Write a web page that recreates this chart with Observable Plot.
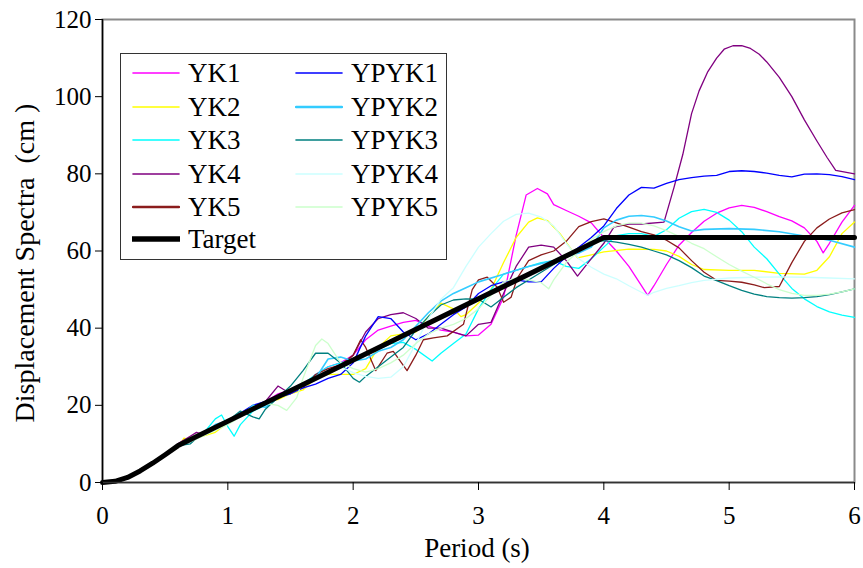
<!DOCTYPE html>
<html>
<head>
<meta charset="utf-8">
<script src="https://cdn.jsdelivr.net/npm/d3@7"></script>
<script src="https://cdn.jsdelivr.net/npm/@observablehq/plot@0.6"></script>
<style>
  body { margin: 0; background: white; }
  #wrap { position: relative; width: 863px; height: 568px; font-family: "Liberation Serif", LiberationSerif, "DejaVu Serif", "Noto Serif", FreeSerif, Tinos, "Times New Roman", Times, serif; }
  #legend { position: absolute; left: 120px; top: 53px; width: 325px; height: 205px; border: 1px solid #333; background: white; }
  .item { position: absolute; height: 30px; display: flex; align-items: center; font-size: 27px; line-height: 30px; }
  .item svg { margin-right: 8px; }
  .title { position: absolute; white-space: pre; line-height: 1; }
</style>
</head>
<body>
<div id="wrap"></div>
<script>
// ---- data (period in s, displacement in cm) ----
const xTicks = [0, 1, 2, 3, 4, 5, 6];
const yTicks = [0, 20, 40, 60, 80, 100, 120];
const early = [[0,0],[0.1,0.3],[0.2,1.3],[0.3,3],[0.4,5],[0.5,7.2]];

const target = [[0,0],[0.1,0.3],[0.2,1.3],[0.3,3],[0.4,5],[0.5,7.2],[0.6,9.5],[4.0,63.5],[6.0,63.5]];

const YK1 = [[0.6,9.5],[0.7,10.5],[0.8,12.5],[0.9,14],[1.0,16],[1.1,17.5],[1.2,19.5],[1.3,21],[1.4,23],[1.5,24],[1.6,25],[1.7,28],[1.8,30],[1.9,31],[2.0,33],[2.1,37],[2.2,39.5],[2.3,40.5],[2.4,41.5],[2.5,42],[2.6,40.5],[2.7,39.5],[2.8,39],[2.9,38],[3.0,38.2],[3.1,41],[3.2,48],[3.3,64],[3.38,74.5],[3.47,76.2],[3.55,74.8],[3.6,72],[3.7,70.5],[3.8,69],[3.9,67.3],[4.0,63.5],[4.1,60],[4.2,56],[4.3,51],[4.35,48.5],[4.4,51],[4.5,56.5],[4.6,61.5],[4.7,64.8],[4.8,67.7],[4.9,69.8],[5.0,71.2],[5.1,71.8],[5.2,71.3],[5.3,70.2],[5.4,68.9],[5.5,67.8],[5.6,66],[5.7,62.5],[5.75,59.5],[5.8,62],[5.9,67.5],[6.0,71.8]];

const YK2 = [[0.6,9],[0.65,11.5],[0.7,11],[0.8,12],[0.9,13],[1.0,15.5],[1.1,17.5],[1.2,19.5],[1.3,21],[1.4,21.5],[1.5,23],[1.6,24],[1.7,27],[1.8,28],[1.9,28],[2.0,28],[2.1,29.5],[2.2,35],[2.3,38],[2.4,38.5],[2.5,39],[2.6,43],[2.7,46.5],[2.8,45],[2.86,43],[2.9,43.5],[3.0,46.5],[3.1,50],[3.2,57],[3.3,63.5],[3.4,67.5],[3.47,68.6],[3.55,67.9],[3.65,64.5],[3.79,58.2],[3.9,59],[4.0,59.8],[4.2,60.5],[4.4,60.4],[4.5,60],[4.6,58.6],[4.7,56.5],[4.8,55.2],[5.0,55],[5.2,55],[5.4,54.2],[5.6,54],[5.7,55],[5.8,58.5],[5.9,64.5],[6.0,67.5]];

const YK3 = [[0.6,9.5],[0.7,10.5],[0.8,12.5],[0.9,16.5],[0.95,17.5],[1.0,14.5],[1.05,12],[1.1,15],[1.2,18.5],[1.3,20],[1.4,22.5],[1.5,24],[1.6,25.5],[1.7,28],[1.8,30],[1.9,31],[2.0,32],[2.1,33.5],[2.2,34.5],[2.3,36],[2.4,36.3],[2.5,34.5],[2.63,31.5],[2.7,33.5],[2.8,36],[2.9,38.5],[3.0,45],[3.1,50],[3.2,54],[3.3,55],[3.4,56],[3.5,57],[3.6,57.5],[3.7,56],[3.8,55.5],[3.9,58],[4.0,61],[4.1,64],[4.2,64.5],[4.3,64.5],[4.4,63.8],[4.5,65.5],[4.6,68.5],[4.7,70.2],[4.8,70.8],[4.9,70],[5.0,68],[5.1,65],[5.2,61],[5.3,58],[5.4,54],[5.5,50.3],[5.6,47.6],[5.7,45.6],[5.8,44.2],[5.9,43.4],[6.0,42.8]];

const YK4 = [[0.6,10],[0.7,12],[0.75,13],[0.8,12.5],[0.9,14],[1.0,16],[1.1,18],[1.2,19.5],[1.3,21],[1.4,25],[1.5,23],[1.6,25],[1.7,27],[1.8,29],[1.9,30],[2.0,33],[2.1,39],[2.2,42.5],[2.3,43.5],[2.4,44],[2.5,42.5],[2.6,40],[2.7,40],[2.8,39],[2.9,38],[3.0,41],[3.1,41.5],[3.2,49],[3.3,56],[3.4,61],[3.5,61.5],[3.6,61],[3.7,57.5],[3.79,53.5],[3.9,58],[4.0,62],[4.08,66.2],[4.2,67],[4.3,67],[4.48,67.5],[4.56,76.5],[4.63,85],[4.7,95.6],[4.76,101.5],[4.83,106.5],[4.9,110],[4.96,112.3],[5.03,113.2],[5.1,113.2],[5.17,112.5],[5.24,111],[5.3,109],[5.4,105],[5.5,100],[5.6,94],[5.7,88.5],[5.78,84.3],[5.85,80.9],[6.0,80]];

const YK5 = [[0.6,9.5],[0.7,11],[0.8,12.5],[0.9,14],[1.0,16],[1.1,17.5],[1.2,19],[1.3,21],[1.4,22.5],[1.5,23.5],[1.6,24.5],[1.7,28],[1.8,29.5],[1.9,30.5],[2.0,33],[2.06,37],[2.1,35],[2.18,29],[2.27,33.5],[2.32,34],[2.43,29],[2.5,33],[2.56,37],[2.64,37.5],[2.75,38],[2.88,41],[2.95,50],[3.0,52.5],[3.07,53.2],[3.15,50.6],[3.2,46.7],[3.26,48],[3.31,53],[3.4,57.5],[3.5,59],[3.6,60],[3.7,62.5],[3.8,66.3],[3.9,67.6],[4.0,68.3],[4.1,67.3],[4.2,66.2],[4.3,65],[4.4,64.2],[4.5,62.8],[4.6,60.8],[4.7,57.5],[4.8,54.5],[4.9,52.4],[5.0,52.2],[5.1,51.9],[5.2,51.2],[5.28,50.5],[5.4,50.8],[5.5,57],[5.6,62.5],[5.7,66],[5.8,68.3],[5.9,69.9],[6.0,70.7]];

const YPYK1 = [[0.6,9.5],[0.7,11],[0.8,13],[0.9,14],[1.0,16],[1.1,18],[1.2,20],[1.3,21],[1.4,22],[1.5,23],[1.6,24.5],[1.7,25.5],[1.8,27],[1.9,28],[2.0,31],[2.1,38],[2.2,43],[2.3,42.5],[2.4,39],[2.5,37],[2.6,38.5],[2.7,41],[2.8,43.5],[2.9,45.5],[3.0,49],[3.1,51],[3.2,52],[3.3,52.5],[3.4,52],[3.5,52],[3.6,55.5],[3.7,58.5],[3.8,61],[3.9,63.5],[4.0,66.5],[4.1,71],[4.2,74.5],[4.3,76.5],[4.4,76.3],[4.5,77.5],[4.6,78.5],[4.7,79],[4.8,79.4],[4.9,79.6],[5.0,80.6],[5.1,80.8],[5.2,80.6],[5.3,80.2],[5.4,79.6],[5.5,79.2],[5.6,79.9],[5.7,80],[5.8,79.8],[5.9,79.3],[6.0,78.5]];

const YPYK2 = [[0.6,9.5],[0.7,11],[0.8,12.6],[0.9,15],[1.0,16],[1.1,17],[1.2,20],[1.3,19.5],[1.4,22],[1.5,24],[1.6,25],[1.7,27],[1.8,32],[1.9,32.5],[2.0,31.5],[2.1,32],[2.2,34],[2.3,35],[2.4,37],[2.5,40.5],[2.6,44],[2.7,47],[2.8,49],[2.9,50.5],[3.0,52],[3.2,54],[3.4,56],[3.6,57.5],[3.8,59.5],[3.9,61],[4.0,66],[4.1,68],[4.2,69],[4.3,69.2],[4.4,68.8],[4.5,67.8],[4.6,66.3],[4.7,65.2],[4.8,65.6],[5.0,65.8],[5.2,65.6],[5.4,65],[5.6,63.9],[5.8,62.8],[6.0,61]];

const YPYK3 = [[0.6,9.5],[0.7,10],[0.8,13],[0.9,14.5],[1.0,16],[1.1,18.5],[1.2,17],[1.25,16.5],[1.3,19],[1.4,22],[1.5,25],[1.6,29],[1.7,33.5],[1.8,33.5],[1.9,31],[2.0,27],[2.05,26],[2.1,27.5],[2.2,30],[2.3,32.5],[2.4,35],[2.5,39.5],[2.6,43],[2.7,46],[2.8,47.3],[2.9,47.6],[3.0,47.5],[3.1,45.5],[3.2,48],[3.3,50.5],[3.4,52.5],[3.5,54.5],[3.6,56.5],[3.7,58.5],[3.8,60.5],[3.9,62.2],[4.0,62.7],[4.1,62.3],[4.2,61.7],[4.3,61],[4.4,60],[4.5,59],[4.6,57.5],[4.7,55.7],[4.8,53.5],[4.9,52.3],[5.0,51],[5.1,49.8],[5.2,48.8],[5.3,48.2],[5.4,47.9],[5.5,47.8],[5.6,47.9],[5.7,48.2],[5.8,48.7],[5.9,49.4],[6.0,50.2]];

const YPYK4 = [[0.6,9.5],[0.7,11],[0.8,12.5],[0.9,14],[1.0,16],[1.1,17.5],[1.2,19],[1.3,21],[1.4,22],[1.5,23.5],[1.6,25],[1.7,27],[1.8,29],[1.9,30],[2.0,28.5],[2.1,27.5],[2.2,27],[2.3,27.3],[2.4,30],[2.5,36],[2.6,42.5],[2.7,47.5],[2.8,50.5],[2.9,56],[3.0,61],[3.1,64.5],[3.2,67.7],[3.3,69.5],[3.4,69.8],[3.5,68.8],[3.6,66.5],[3.7,62],[3.8,58],[3.9,55.8],[4.0,54],[4.1,52.8],[4.2,51],[4.3,49.3],[4.35,48.5],[4.4,49.3],[4.5,50.3],[4.6,51],[4.7,51.8],[4.8,52.4],[5.0,53],[5.2,53.2],[5.4,53.3],[5.6,53.2],[5.8,53],[6.0,52.8]];

const YPYK5 = [[0.6,9.5],[0.7,10.5],[0.8,12],[0.9,13.5],[1.0,15],[1.1,17],[1.2,19],[1.3,20.5],[1.4,20],[1.47,18.7],[1.55,22],[1.6,27],[1.7,35.5],[1.75,37.2],[1.8,36],[1.9,31],[2.0,29.5],[2.1,28.6],[2.2,29.5],[2.3,31],[2.4,33],[2.5,36],[2.6,38.5],[2.7,40],[2.8,41],[2.9,42.5],[3.0,45],[3.1,48.5],[3.2,52],[3.3,53],[3.4,52.5],[3.5,51.8],[3.56,50.2],[3.6,52.5],[3.7,57],[3.8,60],[3.9,63],[4.0,65],[4.1,66.5],[4.2,67.2],[4.3,67.2],[4.4,66.5],[4.5,65.3],[4.6,63.8],[4.7,62],[4.8,60.6],[4.9,58.5],[5.0,56.5],[5.1,54.8],[5.2,53.2],[5.3,51.5],[5.4,50],[5.5,49],[5.6,48.5],[5.7,48.5],[5.8,48.8],[5.9,49.4],[6.0,50.2]];

const seriesNames = ["YK1","YK2","YK3","YK4","YK5","YPYK1","YPYK2","YPYK3","YPYK4","YPYK5"];
const seriesData = [YK1, YK2, YK3, YK4, YK5, YPYK1, YPYK2, YPYK3, YPYK4, YPYK5];
const seriesColors = ["#FF00FF","#FFFF00","#00FFFF","#800080","#8B1C1C","#0000FF","#33CCFF","#008080","#CCFFFF","#CCFFCC"];
const seriesWidths = [1.3,1.3,1.3,1.3,1.3,1.3,1.6,1.3,1.3,1.3];

// ---- build rows ----
const rows = seriesNames.flatMap((name, i) =>
  early.concat(seriesData[i]).map(([t, v]) => ({name, t, v})));
const targetRows = target.map(([t, v]) => ({t, v}));

const serifStack = "'Liberation Serif', LiberationSerif, 'DejaVu Serif', 'Noto Serif', FreeSerif, Tinos, 'Times New Roman', Times, serif";

const chart = Plot.plot({
  width: 863, height: 568,
  marginLeft: 102, marginRight: 9, marginTop: 19, marginBottom: 86,
  style: {fontFamily: serifStack, fontSize: "25px", color: "black", background: "white", overflow: "visible"},
  x: {domain: [0, 6]},
  y: {domain: [0, 120]},
  marks: [
    Plot.frame({stroke: "#8a8a8a", strokeWidth: 2}),
    ...seriesNames.map((name, i) => Plot.line(rows.filter(d => d.name === name), {
      x: "t", y: "v", stroke: seriesColors[i], strokeWidth: seriesWidths[i], curve: "linear"
    })),
    Plot.line(targetRows, {x: "t", y: "v", stroke: "black", strokeWidth: 5, curve: "linear"}),
    Plot.ruleX([0], {stroke: "black", strokeWidth: 1.5}),
    Plot.ruleY([0], {stroke: "#333", strokeWidth: 1.5}),
    Plot.axisX({ticks: xTicks, tickSize: 8, tickPadding: 16, tickFormat: d => String(d), label: null, fontSize: 25, fontFamily: serifStack}),
    Plot.axisY({ticks: yTicks, tickSize: 7, tickPadding: 4, tickFormat: d => String(d), label: null, fontSize: 25, fontFamily: serifStack})
  ]
});

const wrap = document.getElementById("wrap");
wrap.appendChild(chart);

// ---- legend ----
const legend = document.createElement("div");
legend.id = "legend";
const legendEntries = seriesNames.map((n, i) => ({name: n, color: seriesColors[i], width: (n === "YK5" || n === "YPYK2") ? 2.5 : 1.6}));
legendEntries.push({name: "Target", color: "black", width: 5.5});
legendEntries.forEach((e, k) => {
  const col = k >= 5 && k < 10 ? 1 : 0;
  const row = k < 5 ? k : (k < 10 ? k - 5 : 5);
  const item = document.createElement("div");
  item.className = "item";
  item.style.left = (col === 0 ? 11 : 174) + "px";
  item.style.top = (4 + row * 33.6 - (row === 5 ? 2 : 0)) + "px";
  item.innerHTML = `<svg width="48" height="10"><line x1="1" x2="47" y1="5" y2="5" stroke="${e.color}" stroke-width="${e.width}" stroke-linecap="round"/></svg><span>${e.name}</span>`;
  legend.appendChild(item);
});
wrap.appendChild(legend);

// ---- axis titles ----
const xt = document.createElement("div");
xt.className = "title";
xt.textContent = "Period (s)";
xt.style.fontSize = "27px";
xt.style.left = "477px"; xt.style.top = "548px";
xt.style.transform = "translate(-50%, -50%)";
wrap.appendChild(xt);

const yt = document.createElement("div");
yt.className = "title";
yt.textContent = "Displacement Spectra  (cm )";
yt.style.fontSize = "28px";
yt.style.left = "25px"; yt.style.top = "263px";
yt.style.transform = "translate(-50%, -50%) rotate(-90deg)";
wrap.appendChild(yt);
</script>
</body>
</html>
